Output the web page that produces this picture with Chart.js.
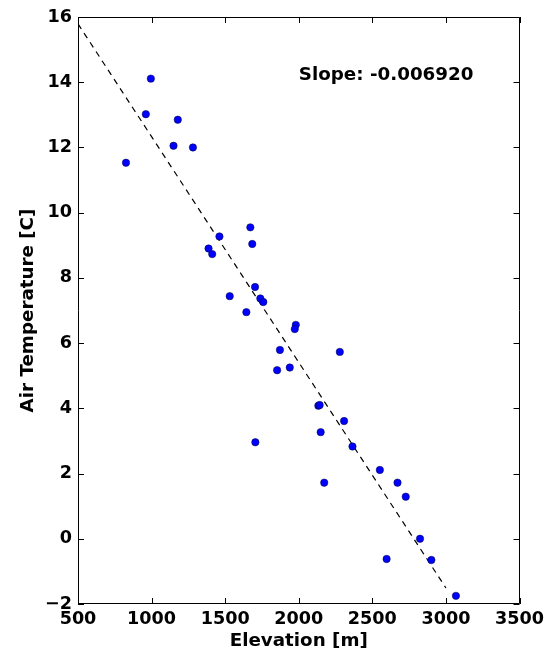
<!DOCTYPE html>
<html>
<head>
<meta charset="utf-8">
<script src="https://cdn.jsdelivr.net/npm/chart.js@4/dist/chart.umd.min.js"></script>
<style>
html,body{margin:0;padding:0;background:#fff;}
#c{display:block;}
</style>
</head>
<body>
<canvas id="c" width="549" height="650"></canvas>
<script>
// Data
const elevation = [995, 961, 1178, 1149, 1281, 826,
  1671, 1461, 1387, 1412, 1684, 1703, 1531, 1739, 1759, 1644, 1980, 1973, 1872, 2279, 1939, 1853,
  1705, 2133, 2142, 2308, 2149, 2365, 2551, 2173, 2671, 2727, 2824, 2597, 2901, 3068];
const airTemp = [14.11, 13.02, 12.85, 12.05, 12.00, 11.53,
  9.55, 9.27, 8.90, 8.73, 9.04, 7.72, 7.44, 7.37, 7.26, 6.95, 6.56, 6.43, 5.79, 5.73, 5.25, 5.17,
  2.96, 4.08, 4.10, 3.61, 3.27, 2.83, 2.11, 1.72, 1.72, 1.29, 0.00, -0.62, -0.65, -1.75];
const trendX = [500, 3000];
const trendY = [15.79, -1.51];
const xTicks = [500, 1000, 1500, 2000, 2500, 3000, 3500];
const yTicks = [-2, 0, 2, 4, 6, 8, 10, 12, 14, 16];
const slopeLabel = 'Slope: -0.006920';

const FONT = "'DejaVu Sans', sans-serif";

const framePlugin = {
  id: 'frame',
  afterDraw(chart) {
    const {ctx, chartArea: a, scales} = chart;
    ctx.save();
    ctx.strokeStyle = '#000';
    ctx.lineWidth = 1;
    ctx.beginPath();
    ctx.rect(Math.round(a.left) + 0.5, Math.round(a.top) + 0.5,
             Math.round(a.right - a.left) - 1, Math.round(a.bottom - a.top) - 1);
    ctx.stroke();
    const L = 6;
    ctx.beginPath();
    scales.x.ticks.forEach(t => {
      const px = Math.round(scales.x.getPixelForValue(t.value)) + 0.5;
      ctx.moveTo(px, a.bottom); ctx.lineTo(px, a.bottom - L);
      ctx.moveTo(px, a.top); ctx.lineTo(px, a.top + L);
    });
    scales.y.ticks.forEach(t => {
      const py = Math.round(scales.y.getPixelForValue(t.value)) + 0.5;
      ctx.moveTo(a.left, py); ctx.lineTo(a.left + L, py);
      ctx.moveTo(a.right, py); ctx.lineTo(a.right - L, py);
    });
    ctx.stroke();
    // annotation text at axes fraction (0.5, 0.9)
    ctx.fillStyle = '#000';
    ctx.font = "bold 18.3px " + FONT;
    ctx.textAlign = 'left';
    ctx.textBaseline = 'middle';
    ctx.fillText(slopeLabel, a.left + 0.5 * (a.right - a.left), a.bottom - 0.9 * (a.bottom - a.top));
    ctx.restore();
  }
};

const fmt = v => String(v).replace('-', '\u2212');

new Chart(document.getElementById('c'), {
  data: {
    datasets: [
      {
        type: 'line',
        data: trendX.map((x, i) => ({x, y: trendY[i]})),
        borderColor: '#000',
        borderWidth: 1.2,
        borderDash: [6, 5],
        pointRadius: 0,
        fill: false,
        order: 2
      },
      {
        type: 'scatter',
        data: elevation.map((x, i) => ({x, y: airTemp[i]})),
        backgroundColor: '#0000ff',
        borderColor: '#000033',
        borderWidth: 0.5,
        pointRadius: 3.7,
        order: 1
      }
    ]
  },
  options: {
    responsive: false,
    animation: false,
    devicePixelRatio: 1,
    layout: {padding: {left: 0, right: 28, top: 17, bottom: 0}},
    plugins: {legend: {display: false}, tooltip: {enabled: false}},
    scales: {
      x: {
        type: 'linear',
        min: 500, max: 3500,
        afterBuildTicks(s) { s.ticks = xTicks.map(v => ({value: v})); },
        afterFit(s) { s.height = 46; },
        grid: {display: false, drawTicks: false},
        border: {display: false},
        ticks: {
          color: '#000', padding: 5, maxRotation: 0, autoSkip: false,
          font: {family: FONT, size: 17.6, weight: 'bold'},
          callback: v => fmt(v)
        },
        title: {
          display: true, text: 'Elevation [m]', color: '#000',
          font: {family: FONT, size: 18.3, weight: 'bold'},
          padding: {top: 0, bottom: -2}
        }
      },
      y: {
        type: 'linear',
        min: -2, max: 16,
        afterBuildTicks(s) { s.ticks = yTicks.map(v => ({value: v})); },
        afterFit(s) { s.width = 78; },
        grid: {display: false, drawTicks: false},
        border: {display: false},
        ticks: {
          color: '#000', padding: 6, autoSkip: false,
          font: {family: FONT, size: 17.6, weight: 'bold'},
          callback: v => fmt(v)
        },
        title: {
          display: true, text: 'Air Temperature [C]', color: '#000',
          font: {family: FONT, size: 18.3, weight: 'bold'},
          padding: {top: 17, bottom: 0}
        }
      }
    }
  },
  plugins: [framePlugin]
});
</script>
</body>
</html>
